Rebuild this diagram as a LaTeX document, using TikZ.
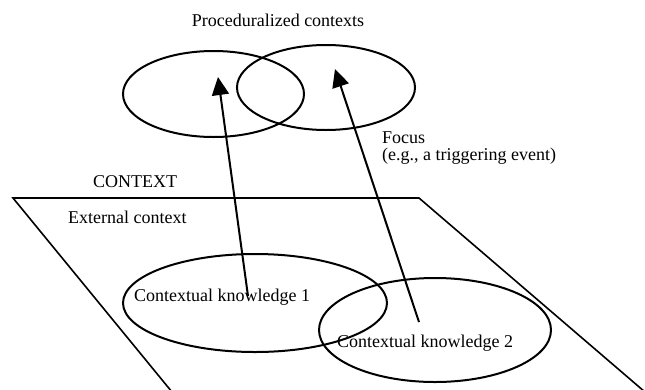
\documentclass[tikz,border=0pt]{standalone}
\usepackage{fontspec}
\setmainfont{Liberation Serif}
\usetikzlibrary{arrows.meta}
\begin{document}
\begin{tikzpicture}[x=1pt,y=-1pt,
  lbl/.style={font=\fontsize{18}{17}\selectfont, inner sep=0pt},
  blob/.style={draw, line width=2pt},
  arr/.style={line width=2pt, -{Triangle[length=18pt,width=17pt]}},
  plane/.style={line width=1.6pt}]
\useasboundingbox (0,0) rectangle (645,389);
% plane
\coordinate (pbl) at (172,392);
\coordinate (ptl) at (13,198);
\coordinate (ptr) at (419,198);
\coordinate (pbr) at (645,392);
\draw[plane] (pbl) -- (ptl) -- (ptr) -- (pbr);
% ellipses
\coordinate (pc1) at (213.5,94);
\coordinate (pc2) at (326,87.5);
\coordinate (ck1) at (255,303);
\coordinate (ck2) at (435,330);
\draw[blob] (pc1) ellipse [x radius=90.5, y radius=43];
\draw[blob] (pc2) ellipse [x radius=89, y radius=42.5];
\draw[blob] (ck1) ellipse [x radius=132, y radius=49];
\draw[blob] (ck2) ellipse [x radius=116, y radius=52];
% texts
\node[lbl] (title) at (278,20) {Proceduralized contexts};
\node[lbl, anchor=base west] (focus) at (382,143) {Focus};
\node[lbl, anchor=base west] (eg) at (382,160) {(e.g., a triggering event)};
\node[lbl, anchor=base west] (ctx) at (93,187) {CONTEXT};
\node[lbl, anchor=base west] (ext) at (68,223) {External context};
\node[lbl, anchor=west] (t1) at (134,297) {Contextual knowledge 1};
\node[lbl, anchor=west] (t2) at (337,343) {Contextual knowledge 2};
% arrows
\coordinate (a1s) at (248,296);
\coordinate (a1e) at (218,77);
\coordinate (a2s) at (419,322);
\coordinate (a2e) at (335,69);
\draw[arr] (a1s) -- (a1e);
\draw[arr] (a2s) -- (a2e);
\end{tikzpicture}
\end{document}
